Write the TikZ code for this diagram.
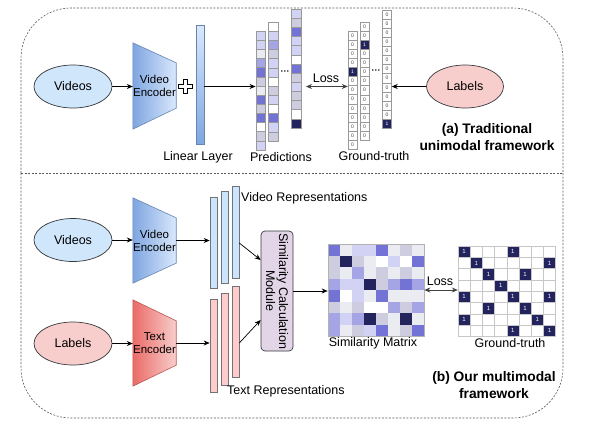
\documentclass[tikz,border=0pt]{standalone}
\usepackage{fontspec}
\setmainfont{Liberation Sans}
\usetikzlibrary{arrows.meta,calc,shapes.geometric}
\definecolor{navy}{HTML}{23235E}
\definecolor{purp}{HTML}{7373D6}
\definecolor{mlav}{HTML}{A5A5E6}
\definecolor{llav}{HTML}{D2D2F4}
\definecolor{glav}{HTML}{CDCDDF}
\definecolor{lgry}{HTML}{EBEBF2}
\definecolor{wht}{HTML}{FFFFFF}
\definecolor{vblue}{HTML}{CCE5FF}
\definecolor{vpink}{HTML}{FFCCCC}
\definecolor{ellblue}{HTML}{D0E6FB}
\definecolor{ellpink}{HTML}{F8CECC}
\definecolor{encbL}{HTML}{7EA6E0}
\definecolor{encbR}{HTML}{DAE8FC}
\definecolor{encrL}{HTML}{EA6B66}
\definecolor{encrR}{HTML}{F8CECC}
\definecolor{simfill}{HTML}{E1D5E7}
\definecolor{edge}{HTML}{36393D}
\begin{document}
\begin{tikzpicture}[x=1pt,y=-1pt,
  dashbox/.style={draw=black!65, line width=0.6pt, dash pattern=on 2pt off 1.5pt, rounded corners=50pt},
  lbl/.style={font=\fontsize{12.5}{14}\selectfont, inner sep=0pt},
  enclbl/.style={font=\fontsize{11.5}{13}\selectfont, align=center, inner sep=0pt, minimum width=43pt},
  title/.style={font=\fontsize{13.8}{17}\selectfont\bfseries, align=center, inner sep=0pt},
  ell/.style={ellipse, draw=edge, line width=0.7pt, minimum width=78pt, minimum height=43pt, inner sep=0pt, font=\fontsize{12.5}{14}\selectfont},
  ar/.style={-{Stealth[length=6pt,width=5pt]}, line width=0.7pt},
  lossar/.style={{Stealth[length=6pt,width=5pt]}-{Stealth[length=6pt,width=5pt]}, line width=1pt, draw=black!75},
  pcell/.style={draw=black!40, line width=0.5pt, minimum width=9.5pt, minimum height=9.15pt, inner sep=0pt},
  gcell/.style={draw=black!40, line width=0.5pt, minimum width=9pt, minimum height=9.1pt, inner sep=0pt, font=\fontsize{5}{5}\selectfont},
  colbox/.style={minimum width=9.5pt, inner sep=0pt},
  bar/.style={draw=black!55, line width=0.6pt, minimum width=7pt, inner sep=0pt},
  mcell/.style={minimum width=12pt, minimum height=11.5pt, inner sep=0pt},
  gmcell/.style={draw=black!22, line width=0.5pt, minimum width=12.2pt, minimum height=11.3pt, inner sep=0pt},
  onecell/.style={fill=navy, draw=black!22, line width=0.5pt, minimum width=12.2pt, minimum height=11.3pt, inner sep=0pt, text=white, font=\fontsize{6}{6}\selectfont}
]
\useasboundingbox (0,0) rectangle (589,424);

% frames
\draw[dashbox] (21,173) -- (21,8) -- (563,8) -- (563,173);
\draw[dashbox] (21,173) -- (21,418) -- (563,418) -- (563,173);
\draw[dashbox] (21,173) -- (563,173);

% ---------- (a) ----------
\node[ell, fill=ellblue] (vid) at (73,86.5) {Videos};
\node[minimum width=43pt, minimum height=86pt, inner sep=0pt] (venc) at (154.5,86) {};
\path[left color=encbL, right color=encbR, draw=encbL!80!black, line width=0.6pt]
  (venc.north west) -- ($(venc.north east)+(0,20)$) -- ($(venc.south east)+(0,-21)$) -- (venc.south west) -- cycle;
\node[enclbl] (venct) at (venc.center) {Video\\Encoder};
\draw[ar] (vid.east) -- (venc.west |- vid.east);

% plus sign
\coordinate (plus) at (185,86);
\draw[fill=white, line width=0.7pt] ($(plus)+(-2,-7)$) -- ($(plus)+(2,-7)$) -- ($(plus)+(2,-2)$) -- ($(plus)+(7,-2)$) -- ($(plus)+(7,2)$) -- ($(plus)+(2,2)$) -- ($(plus)+(2,7)$) -- ($(plus)+(-2,7)$) -- ($(plus)+(-2,2)$) -- ($(plus)+(-7,2)$) -- ($(plus)+(-7,-2)$) -- ($(plus)+(-2,-2)$) -- cycle;

\node[draw=encbL!80!black, line width=0.6pt, minimum width=8pt, minimum height=119pt, inner sep=0pt, top color=encbR, bottom color=encbL] (lin) at (200,84.5) {};
\node[lbl] (linl) at (198,157) {Linear Layer};

% predictions
\node[colbox, minimum height=118.95pt] (pc1) at (260.5,90.475) {};
\node[colbox, minimum height=118.95pt] (pc2) at (273,81.475) {};
\node[colbox, minimum height=118.95pt] (pc3) at (296,68.475) {};
\foreach \c [count=\i] in {llav,llav,lgry,mlav,purp,glav,lgry,purp,glav,purp,wht,glav,llav}
  \node[pcell, fill=\c] (pa-\i) at (260.5,{31+(\i-0.5)*9.15}) {};
\foreach \c [count=\i] in {wht,llav,mlav,glav,llav,llav,wht,glav,llav,wht,purp,llav,glav}
  \node[pcell, fill=\c] (pb-\i) at (273,{22+(\i-0.5)*9.15}) {};
\foreach \c [count=\i] in {llav,glav,purp,llav,llav,wht,purp,glav,llav,glav,glav,wht,navy}
  \node[pcell, fill=\c] (pd-\i) at (296,{9+(\i-0.5)*9.15}) {};
\node[font=\fontsize{9}{9}\selectfont\bfseries, inner sep=0pt] (pdots) at (285,73) {···};
\node[lbl] (predl) at (281,157) {Predictions};
\draw[ar] (lin.east |- vid.east) -- (pc1.west |- vid.east);

% ground truth columns
\node[colbox, minimum width=9pt, minimum height=118.3pt] (gt1) at (352.5,90.15) {};
\node[colbox, minimum width=9pt, minimum height=118.3pt] (gt2) at (364.5,81.15) {};
\node[colbox, minimum width=9pt, minimum height=118.3pt] (gt3) at (387,69.15) {};
\foreach \v [count=\i] in {0,0,0,0,1,0,0,0,0,0,0,0,0}{
  \ifnum\v=1 \def\cf{navy}\def\tc{white}\else\def\cf{white}\def\tc{black!75}\fi
  \node[gcell, fill=\cf, text=\tc] (ga-\i) at (352.5,{31+(\i-0.5)*9.1}) {\v};}
\foreach \v [count=\i] in {0,0,1,0,0,0,0,0,0,0,0,0,0}{
  \ifnum\v=1 \def\cf{navy}\def\tc{white}\else\def\cf{white}\def\tc{black!75}\fi
  \node[gcell, fill=\cf, text=\tc] (gb-\i) at (364.5,{22+(\i-0.5)*9.1}) {\v};}
\foreach \v [count=\i] in {0,0,0,0,0,0,0,0,0,0,0,0,1}{
  \ifnum\v=1 \def\cf{navy}\def\tc{white}\else\def\cf{white}\def\tc{black!75}\fi
  \node[gcell, fill=\cf, text=\tc] (gd-\i) at (387,{10+(\i-0.5)*9.1}) {\v};}
\node[font=\fontsize{9}{9}\selectfont\bfseries, inner sep=0pt] (gdots) at (376,72) {···};
\node[lbl] (gtl) at (374,156) {Ground-truth};

\node[ell, fill=ellpink, minimum width=77pt] (lab) at (465,86.5) {Labels};
\draw[ar] (lab.west) -- (gt3.east |- lab.west);
\draw[lossar, shorten <=5pt] (pc3.east |- lab.west) -- (gt1.west |- lab.west);
\node[lbl] (loss1) at (326,78) {Loss};
\node[title] (ta) at (487,137.5) {(a) Traditional\\unimodal framework};

% ---------- (b) ----------
\node[ell, fill=ellblue] (vid2) at (73,240) {Videos};
\node[minimum width=43pt, minimum height=85pt, inner sep=0pt] (venc2) at (154.5,240.5) {};
\path[left color=encbL, right color=encbR, draw=encbL!80!black, line width=0.6pt]
  (venc2.north west) -- ($(venc2.north east)+(0,20)$) -- ($(venc2.south east)+(0,-20)$) -- (venc2.south west) -- cycle;
\node[enclbl] (venc2t) at (venc2.center) {Video\\Encoder};
\draw[ar] (vid2.east) -- (venc2.west |- vid2.east);

\node[ell, fill=ellpink] (lab2) at (73,343.5) {Labels};
\node[minimum width=43pt, minimum height=86pt, inner sep=0pt] (tenc) at (154.5,343) {};
\path[left color=encrL, right color=encrR, draw=encrL!80!black, line width=0.6pt]
  (tenc.north west) -- ($(tenc.north east)+(0,21)$) -- ($(tenc.south east)+(0,-21)$) -- (tenc.south west) -- cycle;
\node[enclbl] (tenct) at (tenc.center) {Text\\Encoder};
\draw[ar] (lab2.east) -- (tenc.west |- lab2.east);

\node[bar, fill=vblue, minimum height=91pt] (vb1) at (213.5,242.5) {};
\node[bar, fill=vblue, minimum height=92pt] (vb2) at (224.5,237) {};
\node[bar, fill=vblue, minimum height=92pt] (vb3) at (235.5,232) {};
\node[bar, fill=vpink, minimum height=93pt] (tb1) at (213.5,345.5) {};
\node[bar, fill=vpink, minimum height=92pt] (tb2) at (224.5,339) {};
\node[bar, fill=vpink, minimum height=91pt] (tb3) at (235.5,331.5) {};
\node[lbl, anchor=west] (vrl) at (241,198) {Video Representations};
\node[lbl, anchor=west] (trl) at (227,391) {Text Representations};
\draw[ar] (venc2.east) -- (vb1.west |- venc2.east);
\draw[ar] (tenc.east) -- (tb1.west |- tenc.east);

\node[draw=edge, fill=simfill, line width=0.7pt, rounded corners=4pt, minimum width=32pt, minimum height=120pt, inner sep=0pt] (sim) at (277,291) {};
\node[font=\fontsize{12.5}{13}\selectfont, align=center, rotate=-90, inner sep=0pt] (simt) at (sim.center) {Similarity Calculation\\Module};
\draw[ar] ([yshift=-11pt]vb3.east) -- ([yshift=31pt]sim.west);
\draw[ar] ([yshift=-11.5pt]tb3.east) -- ([yshift=-29pt]sim.west);

% similarity matrix
\foreach \row [count=\r] in {
  {purp,lgry,llav,llav,purp,lgry,glav,lgry},
  {glav,navy,glav,lgry,wht,llav,wht,purp},
  {glav,lgry,mlav,lgry,glav,lgry,glav,lgry},
  {mlav,llav,llav,navy,glav,mlav,purp,mlav},
  {purp,wht,llav,lgry,purp,lgry,lgry,lgry},
  {glav,lgry,glav,wht,wht,mlav,glav,mlav},
  {mlav,llav,mlav,navy,glav,lgry,navy,lgry},
  {mlav,lgry,glav,llav,purp,lgry,glav,purp}}{
  \foreach \c [count=\k] in \row
    \node[mcell, fill=\c] (sm-\r-\k) at ({328+(\k-0.5)*12},{244+(\r-0.5)*11.5}) {};}
\node[draw=black!30, line width=0.6pt, minimum width=96pt, minimum height=92pt, inner sep=0pt] (smat) at (376,290) {};
\node[lbl] (smatl) at (373,343) {Similarity Matrix};
\draw[ar] (sim.east) -- (smat.west |- sim.east);

% ground-truth matrix
\foreach \r in {1,...,8}
  \foreach \k in {1,...,8}
    \node[gmcell] (gm-\r-\k) at ({458+(\k-0.5)*12.2},{246+(\r-0.5)*11.3}) {};
\foreach \r/\k in {1/1,1/5,2/2,2/8,3/3,3/6,4/4,5/1,5/5,5/8,6/3,6/6,7/1,7/7,8/5,8/8}
  \node[onecell] (go-\r-\k) at ({458+(\k-0.5)*12.2},{246+(\r-0.5)*11.3}) {1};
\node[minimum width=97.6pt, minimum height=90.4pt, inner sep=0pt] (gmat) at (506.8,291.2) {};
\node[lbl] (gmatl) at (510,343) {Ground-truth};
\draw[lossar] (smat.east) -- (gmat.west |- smat.east);
\node[lbl] (loss2) at (440,281) {Loss};

\node[title] (tb) at (494,385.5) {(b) Our multimodal\\framework};
\end{tikzpicture}
\end{document}
